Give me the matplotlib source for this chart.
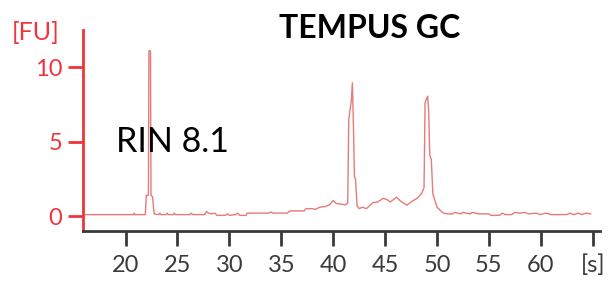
import matplotlib
matplotlib.use("Agg")
import matplotlib.pyplot as plt

# trace: migration time [s] vs fluorescence [FU]
time_s = [15.9, 20.8, 20.85, 20.9, 21.9, 22.0, 22.2, 22.25, 22.4, 22.45, 22.6, 22.75,
          23.2, 23.3, 23.4, 23.9, 24.0, 24.1, 24.6, 24.7, 24.8, 26.2, 26.3, 26.5,
          27.6, 27.8, 28.0, 28.3, 28.6, 28.8, 29.6, 29.8, 30.0, 30.6, 30.8, 31.0,
          31.6, 31.7, 33.8, 34.0, 34.2, 35.6, 35.8, 37.2, 37.4, 38.0, 38.3, 38.7,
          39.3, 39.7, 40.0, 40.3, 40.8, 41.2, 41.4, 41.5, 41.6, 41.75, 41.85, 41.95,
          42.05, 42.15, 42.3, 42.5, 42.8, 43.2, 43.8, 44.3, 44.8, 45.2, 45.5, 46.1,
          46.5, 47.1, 47.6, 48.1, 48.5, 48.75, 48.85, 49.0, 49.1, 49.2, 49.3, 49.45,
          49.6, 50.0, 50.6, 51.0, 51.5, 51.7, 52.3, 52.5, 53.2, 53.4, 54.0, 55.0,
          55.2, 56.0, 56.3, 56.6, 57.2, 57.5, 58.0, 58.5, 58.8, 59.6, 59.9, 60.5,
          61.0, 61.2, 62.5, 62.8, 63.2, 63.6, 64.0, 64.3, 64.8]
signal_fu = [0.1, 0.1, 0.2, 0.1, 0.1, 1.4, 1.4, 11.1, 11.1, 1.4, 1.3, 0.15,
             0.1, 0.2, 0.1, 0.1, 0.2, 0.1, 0.1, 0.2, 0.1, 0.1, 0.2, 0.1,
             0.1, 0.3, 0.2, 0.15, 0.2, 0.05, 0.05, 0.15, 0.05, 0.1, 0.2, 0.05,
             0.05, 0.2, 0.2, 0.28, 0.2, 0.2, 0.35, 0.35, 0.5, 0.5, 0.45, 0.6,
             0.65, 0.8, 1.05, 0.85, 0.8, 0.75, 0.9, 6.5, 7.0, 7.8, 8.95, 6.0,
             2.6, 2.5, 0.7, 0.5, 0.6, 0.5, 0.9, 0.95, 1.2, 1.1, 0.95, 1.27,
             1.0, 0.74, 1.0, 1.2, 1.5, 1.9, 7.6, 7.9, 8.05, 7.0, 4.1, 3.8,
             1.5, 0.6, 0.2, 0.15, 0.15, 0.25, 0.15, 0.25, 0.15, 0.25, 0.15, 0.15,
             0.05, 0.05, 0.2, 0.1, 0.1, 0.25, 0.2, 0.25, 0.15, 0.2, 0.1, 0.2,
             0.1, 0.1, 0.1, 0.2, 0.1, 0.2, 0.1, 0.2, 0.15]

x_ticks = [20, 25, 30, 35, 40, 45, 50, 55, 60, 65]
x_tick_labels = ["20", "25", "30", "35", "40", "45", "50", "55", "60", "[s]"]
y_ticks = [0, 5, 10]
y_tick_labels = ["0", "5", "10"]

title_text = "TEMPUS GC"
rin_text = "RIN 8.1"
y_unit = "[FU]"

plt.rcParams['font.family'] = ['Lato', 'DejaVu Sans']

W, H = 615, 282
fig = plt.figure(figsize=(W / 100, H / 100), dpi=100)
ax = fig.add_axes([83 / W, (H - 231) / H, (600 - 83) / W, (231 - 30) / H])

ax.plot(time_s, signal_fu, color="#e57a7a", lw=1.0)

ax.set_xlim(15.9, 65.7)
ax.set_ylim(-1.0, 12.5)

red = "#f0343c"
gray = "#3a3a3a"
for s in ["top", "right"]:
    ax.spines[s].set_visible(False)
ax.spines["left"].set_color(red)
ax.spines["left"].set_linewidth(2)
ax.spines["bottom"].set_color(gray)
ax.spines["bottom"].set_linewidth(2)

ax.set_xticks(x_ticks)
ax.set_xticklabels(x_tick_labels)
ax.set_yticks(y_ticks)
ax.set_yticklabels(y_tick_labels)
ax.tick_params(axis="x", direction="out", length=11, width=2, color=gray,
               labelcolor=gray, labelsize=17, pad=6)
ax.tick_params(axis="y", direction="out", length=11, width=2, color=red,
               labelcolor=red, labelsize=17, pad=4)

fig.text(36 / W, 1 - 33 / H, y_unit, color=red, fontsize=18,
         ha="center", va="center")
fig.text(370 / W, 1 - 28 / H, title_text, color="black", fontsize=23,
         fontweight="bold", ha="center", va="center")
fig.text(172 / W, 1 - 142 / H, rin_text, color="black", fontsize=24.5,
         ha="center", va="center")

fig.savefig("out.png", dpi=100)
